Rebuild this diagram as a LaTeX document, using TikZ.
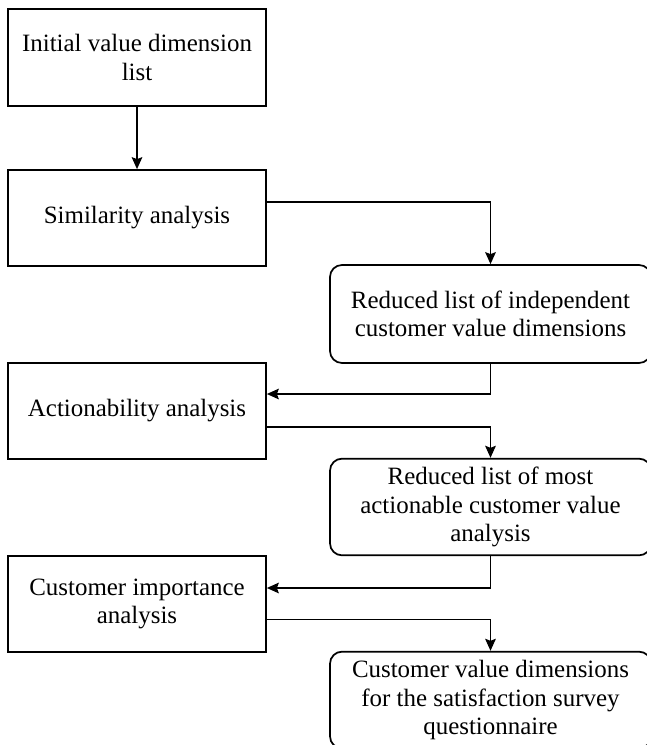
\documentclass[tikz,border=0pt]{standalone}
\usepackage{fontspec}
\setmainfont{Liberation Serif}
\usetikzlibrary{arrows.meta}
\begin{document}
\begin{tikzpicture}[x=0.75pt,y=-0.75pt,
  every node/.style={font=\fontsize{18.7}{21.5}\selectfont, align=center, inner sep=0pt},
  stepbox/.style={draw, line width=1.3pt, minimum width=193.5pt, minimum height=72pt},
  resultbox/.style={draw, line width=1.3pt, rounded corners=9pt, minimum width=240.75pt, minimum height=72.5pt},
  flow/.style={line width=1.1pt, -{Stealth[length=9pt,width=8pt,inset=1.5pt]}}]
  % canvas
  \fill[white] (0,0) rectangle (646,745);
  \useasboundingbox (0,0) rectangle (646,745);

  % analysis steps (left column)
  \node[stepbox, minimum height=72.75pt] (init) at (137,57.5) {Initial value dimension\\list};
  \node[stepbox] (sim) at (137,218) {Similarity analysis};
  \node[stepbox] (act) at (137,411) {Actionability analysis};
  \node[stepbox] (imp) at (137,604) {Customer importance\\analysis};

  % intermediate and final lists (right column)
  \node[resultbox, minimum height=73.5pt] (red1) at (490.5,314) {Reduced list of independent\\customer value dimensions};
  \node[resultbox] (red2) at (490.5,507) {Reduced list of most\\actionable customer value\\analysis};
  \node[resultbox] (final) at (490.5,700) {Customer value dimensions\\for the satisfaction survey\\questionnaire};

  % connectors
  \draw[flow] (init.south) -- (sim.north);
  \draw[flow] ([yshift=12pt]sim.east) -| (red1.north);
  \draw[flow] (red1.south) |- ([yshift=12.75pt]act.east);
  \draw[flow] ([yshift=-12pt]act.east) -| (red2.north);
  \draw[flow] (red2.south) |- ([yshift=12pt]imp.east);
  \draw[flow] ([yshift=-11.6pt]imp.east) -| (final.north);
\end{tikzpicture}
\end{document}
